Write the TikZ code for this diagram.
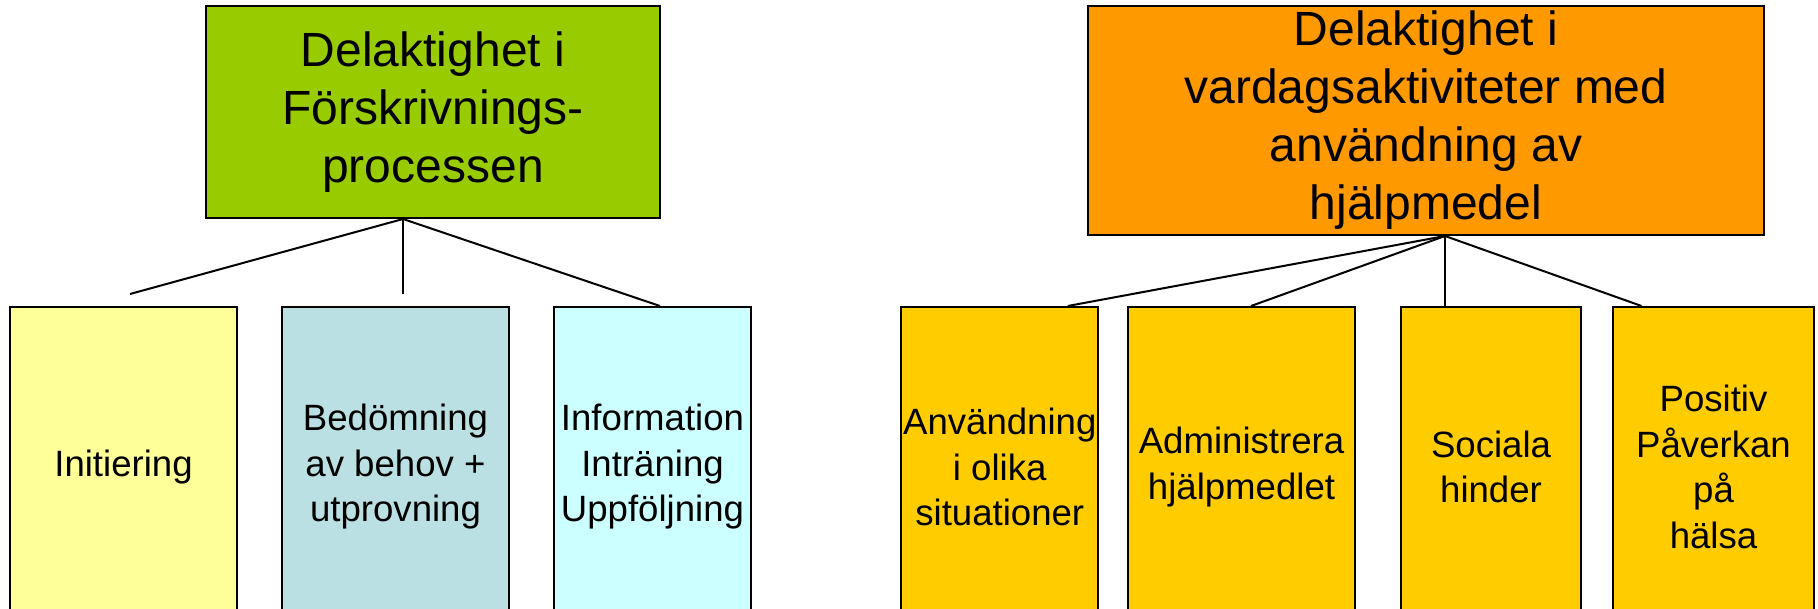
\documentclass[tikz,border=0pt]{standalone}
\usepackage{fontspec}
\setmainfont{Liberation Sans}
\definecolor{cgreen}{HTML}{99CC00}
\definecolor{corange}{HTML}{FF9900}
\definecolor{cyellow}{HTML}{FFFF99}
\definecolor{cgrayblue}{HTML}{BBE0E3}
\definecolor{ccyan}{HTML}{CCFFFF}
\definecolor{cgold}{HTML}{FFCC00}
\begin{document}
\begin{tikzpicture}[x=0.5pt,y=-0.5pt,
  topbox/.style={draw=black, line width=1pt, rectangle, align=center, inner sep=2pt,
    font={\fontsize{24}{29}\selectfont}},
  subbox/.style={draw=black, line width=1pt, rectangle, align=center, inner sep=1pt,
    minimum height=160pt, font={\fontsize{18.3}{22.75}\selectfont}},
  conn/.style={line width=1pt, black}]
\useasboundingbox (0,0) rectangle (1818,609);
\clip (0,0) rectangle (1818,609);
% top boxes
\node[topbox, fill=cgreen, minimum width=227pt, minimum height=106pt] (g) at (433,112)
  {Delaktighet i\\Förskrivnings-\\processen};
\node[topbox, fill=corange, minimum width=338pt, minimum height=114.5pt] (o) at (1426,120.5)
  {Delaktighet i\\vardagsaktiviteter med\\användning av\\hjälpmedel};
% left sub boxes (bottom edge lies below the picture)
\node[subbox, fill=cyellow, minimum width=113.5pt] (b1) at (123.5,467) {Initiering};
\node[subbox, fill=cgrayblue, minimum width=113.5pt] (b2) at (395.5,467) {Bedömning\\av behov +\\utprovning};
\node[subbox, fill=ccyan, minimum width=98.5pt] (b3) at (652.5,467) {Information\\Inträning\\Uppföljning};
% right sub boxes
\node[subbox, fill=cgold, minimum width=98.25pt] (ra) at (999.75,467) {Användning\\i olika\\situationer};
\node[subbox, fill=cgold, minimum width=113.5pt] (rb) at (1241.5,467) {Administrera\\hjälpmedlet};
\node[subbox, fill=cgold, minimum width=90.25pt] (rc) at (1491,467) {Sociala\\hinder};
\node[subbox, fill=cgold, minimum width=100.5pt] (rd) at (1713.5,467) {Positiv\\Påverkan\\på\\hälsa};
% connectors left
\coordinate (ga) at ([xshift=-15pt]g.south);
\coordinate (gl) at (130,294);
\coordinate (gm) at (403,294);
\draw[conn] (ga) -- (gl);
\draw[conn] (ga) -- (gm);
\draw[conn] (ga) -- ([xshift=3.75pt]b3.north);
% connectors right
\coordinate (oa) at ([xshift=9.5pt]o.south);
\draw[conn] (oa) -- ([xshift=34pt]ra.north);
\draw[conn] (oa) -- ([xshift=4.75pt]rb.north);
\draw[conn] (oa) -- (oa |- rc.north);
\draw[conn] (oa) -- ([xshift=-36pt]rd.north);
\end{tikzpicture}
\end{document}
